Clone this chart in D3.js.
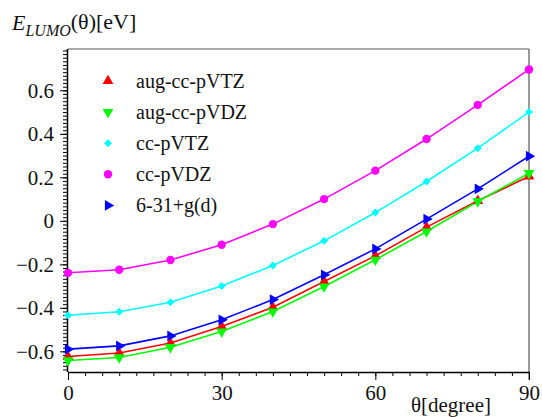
<!DOCTYPE html>
<html lang="en">
<head>
<meta charset="utf-8" />
<title>E_LUMO vs theta</title>
<script src="https://d3js.org/d3.v7.min.js"></script>
<style>
  body { margin: 0; background: #fff; }
</style>
</head>
<body>
<div id="chart"></div>
<script>
// angles (degree)
const theta = [0, 10, 20, 30, 40, 50, 60, 70, 80, 90];

// series values [eV]
const augVTZ = [-0.624, -0.608, -0.562, -0.486, -0.397, -0.279, -0.161, -0.029, 0.092, 0.204];
const augVDZ = [-0.642, -0.628, -0.581, -0.509, -0.417, -0.302, -0.179, -0.049, 0.089, 0.219];
const ccVTZ  = [-0.434, -0.418, -0.374, -0.300, -0.205, -0.092, 0.038, 0.181, 0.334, 0.500];
const ccVDZ  = [-0.239, -0.225, -0.180, -0.110, -0.015, 0.100, 0.231, 0.376, 0.533, 0.696];
const g631   = [-0.590, -0.575, -0.529, -0.455, -0.362, -0.248, -0.129, 0.008, 0.147, 0.297];

const seriesNames = ["aug-cc-pVTZ", "aug-cc-pVDZ", "cc-pVTZ", "cc-pVDZ", "6-31+g(d)"];
const xTicks = [0, 30, 60, 90];
const yTicks = [-0.6, -0.4, -0.2, 0, 0.2, 0.4, 0.6];

const W = 542, H = 417;
const margin = { top: 49, right: 13, bottom: 45, left: 68 };
const width = W - margin.left - margin.right,
      height = H - margin.top - margin.bottom;
const serif = "Liberation Serif";

const series = [
  { name: seriesNames[0], values: augVTZ, color: "#ff0000", shape: d3.symbolTriangle, rot: 0, size: 50 },
  { name: seriesNames[1], values: augVDZ, color: "#00ff00", shape: d3.symbolTriangle, rot: 180, size: 50 },
  { name: seriesNames[2], values: ccVTZ,  color: "#00ffff", shape: d3.symbolSquare, rot: 45, size: 32 },
  { name: seriesNames[3], values: ccVDZ,  color: "#ff00ff", shape: d3.symbolCircle, rot: 0, size: 55 },
  { name: seriesNames[4], values: g631,   color: "#0000ff", shape: d3.symbolTriangle, rot: 90, size: 50 }
];

const x = d3.scaleLinear().domain([0, 90]).range([0, width]);
const y = d3.scaleLinear().domain([-0.695, 0.79]).range([height, 0]);

const svg = d3.select("#chart").append("svg")
    .attr("width", W)
    .attr("height", H);

const g = svg.append("g")
    .attr("transform", "translate(" + margin.left + "," + margin.top + ")");

// frame (top and right)
g.append("line").attr("x1", 0).attr("x2", width).attr("y1", 0).attr("y2", 0)
    .attr("stroke", "#555").attr("stroke-width", 1.2);
g.append("line").attr("x1", width).attr("x2", width).attr("y1", 0).attr("y2", height + 8)
    .attr("stroke", "#555").attr("stroke-width", 1.2);

// minor ticks x (9 per 30 degrees)
const xMinor = d3.range(0, 90.001, 10 / 3);
g.append("g")
    .attr("transform", "translate(0," + height + ")")
    .call(d3.axisBottom(x).tickValues(xMinor).tickSize(4).tickFormat(""))
    .call(a => a.select(".domain").remove());

// minor ticks y (12 per 0.2)
const yMinor = d3.range(-0.68333, 0.79, 0.2 / 12);
g.append("g")
    .call(d3.axisLeft(y).tickValues(yMinor).tickSize(5).tickFormat(""))
    .call(a => a.select(".domain").remove());

// major axes
const xAxis = g.append("g")
    .attr("transform", "translate(0," + height + ")")
    .call(d3.axisBottom(x).tickValues(xTicks).tickSize(8).tickPadding(5).tickSizeOuter(0));
xAxis.select(".domain").attr("d", "M0,0.5H" + width).attr("stroke", "#000").attr("stroke-width", 1.5);

const yAxis = g.append("g")
    .call(d3.axisLeft(y).tickValues(yTicks).tickSize(8).tickPadding(6).tickSizeOuter(0)
        .tickFormat(d => d === 0 ? "0" : d3.format(".1f")(d)));
yAxis.select(".domain").attr("d", "M-0.5,0V" + height).attr("stroke", "#000").attr("stroke-width", 1.5);

[xAxis, yAxis].forEach(a => {
  a.attr("font-family", serif).attr("font-size", 21);
  a.selectAll("text").attr("fill", "#111");
});

// lines and markers
const line = d3.line()
    .x((d, i) => x(theta[i]))
    .y(d => y(d));

series.forEach(s => {
  g.append("path")
      .datum(s.values)
      .attr("fill", "none")
      .attr("stroke", s.color)
      .attr("stroke-width", 1.6)
      .attr("d", line);
});

series.forEach(s => {
  const sym = d3.symbol().type(s.shape).size(s.size);
  g.selectAll(null)
      .data(s.values)
      .enter().append("path")
      .attr("d", sym)
      .attr("fill", s.color)
      .attr("transform", (d, i) => "translate(" + x(theta[i]) + "," + y(d) + ") rotate(" + s.rot + ")");
});

// legend
const legend = svg.append("g").attr("transform", "translate(108,81)");
series.forEach((s, i) => {
  const row = legend.append("g").attr("transform", "translate(0," + (i * 31.1) + ")");
  row.append("path")
      .attr("d", d3.symbol().type(s.shape).size(s.size))
      .attr("fill", s.color)
      .attr("transform", "rotate(" + s.rot + ")");
  row.append("text")
      .attr("x", 28)
      .attr("y", 6.5)
      .attr("font-family", serif)
      .attr("font-size", 20)
      .attr("fill", "#111")
      .text(s.name);
});

// axis titles
const yTitle = svg.append("text").attr("x", 12).attr("y", 30)
    .attr("font-family", serif).attr("font-size", 22).attr("fill", "#111");
yTitle.append("tspan").attr("font-style", "italic").text("E");
yTitle.append("tspan").attr("font-style", "italic").attr("font-size", 16).attr("dy", 6).text("LUMO");
yTitle.append("tspan").attr("dy", -7).text("(θ)[eV]");

svg.append("text")
    .attr("x", 411)
    .attr("y", 412)
    .attr("font-family", serif)
    .attr("font-size", 21)
    .attr("fill", "#111")
    .text("θ[degree]");
</script>
</body>
</html>
